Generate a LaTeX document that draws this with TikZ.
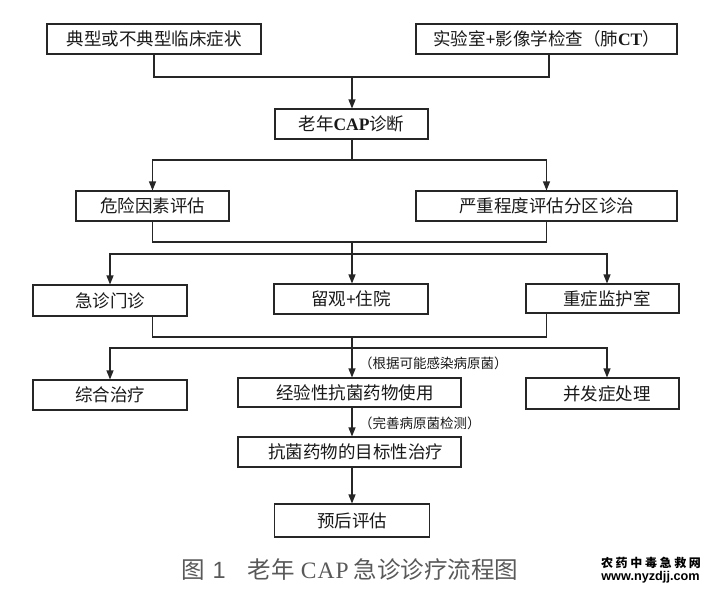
\documentclass[tikz,border=0pt]{standalone}
\usepackage{fontspec}
\setmainfont{Liberation Serif}
\newfontfamily\cjk{Noto Sans CJK SC}
\newfontfamily\wmsans{Liberation Sans}
\usetikzlibrary{arrows.meta}
\begin{document}
\begin{tikzpicture}[x=1pt,y=-1pt,
  box/.style={draw=black!85, line width=1.1pt, rectangle, inner sep=0pt,
    font=\cjk\fontsize{17.5}{18}\selectfont, text=black!90},
  conn/.style={draw=black!85, line width=1.1pt},
  arr/.style={conn, -{Triangle[length=9pt,width=7pt]}},
  note/.style={font=\cjk\fontsize{13.5}{14}\selectfont, anchor=west, inner sep=0pt, text=black!90}]
\fill[white] (0,0) rectangle (711,589);
\useasboundingbox (0,0) rectangle (711,589);

\node[box, minimum width=214pt, minimum height=30pt] (b1) at (154,39) {典型或不典型临床症状};
\node[box, minimum width=261pt, minimum height=30pt] (b2) at (546.5,39) {实验室{\rmfamily\bfseries +}影像学检查（肺{\rmfamily\bfseries CT}）};
\node[box, minimum width=153pt, minimum height=30pt] (b3) at (351.5,124) {老年{\rmfamily\bfseries CAP}诊断};
\node[box, minimum width=153pt, minimum height=30pt] (b4) at (152.5,206) {危险因素评估};
\node[box, minimum width=261pt, minimum height=30pt] (b5) at (546.5,206) {严重程度评估分区诊治};
\node[box, minimum width=154pt, minimum height=31pt] (b6) at (110,300.5) {急诊门诊};
\node[box, minimum width=154pt, minimum height=30pt] (b7) at (351,299) {留观{\rmfamily\bfseries +}住院};
\node[box, minimum width=153pt, minimum height=29pt] (b8) at (602.5,298.5) {\hspace*{9pt}重症监护室};
\node[box, minimum width=154pt, minimum height=30pt] (b9) at (110,395) {综合治疗};
\node[box, minimum width=223pt, minimum height=29pt] (b10) at (349.5,392.5) {\hspace*{11pt}经验性抗菌药物使用};
\node[box, minimum width=153pt, minimum height=31pt] (b11) at (602.5,393.5) {\hspace*{9pt}并发症处理};
\node[box, minimum width=223pt, minimum height=30pt] (b12) at (349.5,452) {\hspace*{12pt}抗菌药物的目标性治疗};
\node[box, minimum width=155pt, minimum height=33pt] (b13) at (352,520.5) {预后评估};

\coordinate (j1) at (352,77);
\coordinate (j2) at (352,160);
\coordinate (j3) at (352,242);
\coordinate (j4) at (352,254);
\coordinate (j5) at (352,337);
\coordinate (j6) at (352,348);

\draw[conn] (b1.south) |- (j1) -| ([xshift=2.5pt]b2.south);
\draw[arr] (j1) -- (j1 |- b3.north);
\draw[conn] (b3.south -| j2) -- (j2);
\draw[arr] (j2) -| (b4.north);
\draw[arr] (j2) -| (b5.north);
\draw[conn] (b4.south) |- (j3) -| (b5.south);
\draw[arr] (j3) -- (j3 |- b7.north);
\draw[arr] (j4) -| (b6.north);
\draw[arr] (j4) -| ([xshift=4.5pt]b8.north);
\draw[conn] (b6.south -| b4.south) |- (j5) -| (b8.south -| b5.south);
\draw[arr] (j5) -- (j5 |- b10.north);
\draw[arr] (j6) -| (b9.north);
\draw[arr] (j6) -| ([xshift=4.5pt]b11.north);
\draw[arr] (b10.south -| j6) -- (j6 |- b12.north);
\draw[arr] (b12.south -| j6) -- (j6 |- b13.north);

\node[note] (l1) at (359,363) {（根据可能感染病原菌）};
\node[note] (l2) at (359,423) {（完善病原菌检测）};

\node[anchor=west, inner sep=0pt, text=black!65, font=\cjk\fontsize{23.5}{24}\selectfont] (cap) at (181,569.5)
  {图\hspace{8pt}{\wmsans 1}\hspace{22pt}老年\hspace{6pt}{\rmfamily\addfontfeature{LetterSpace=5}CAP}\hspace{5pt}急诊诊疗流程图};

\node[inner sep=0pt, font=\cjk\bfseries\fontsize{12}{12}\selectfont] (wm1) at (651,563) {\addfontfeature{LetterSpace=22}农药中毒急救网};
\node[inner sep=0pt, font=\wmsans\bfseries\fontsize{12.7}{13}\selectfont] (wm2) at (650.5,577) {www.nyzdjj.com};
\end{tikzpicture}
\end{document}
